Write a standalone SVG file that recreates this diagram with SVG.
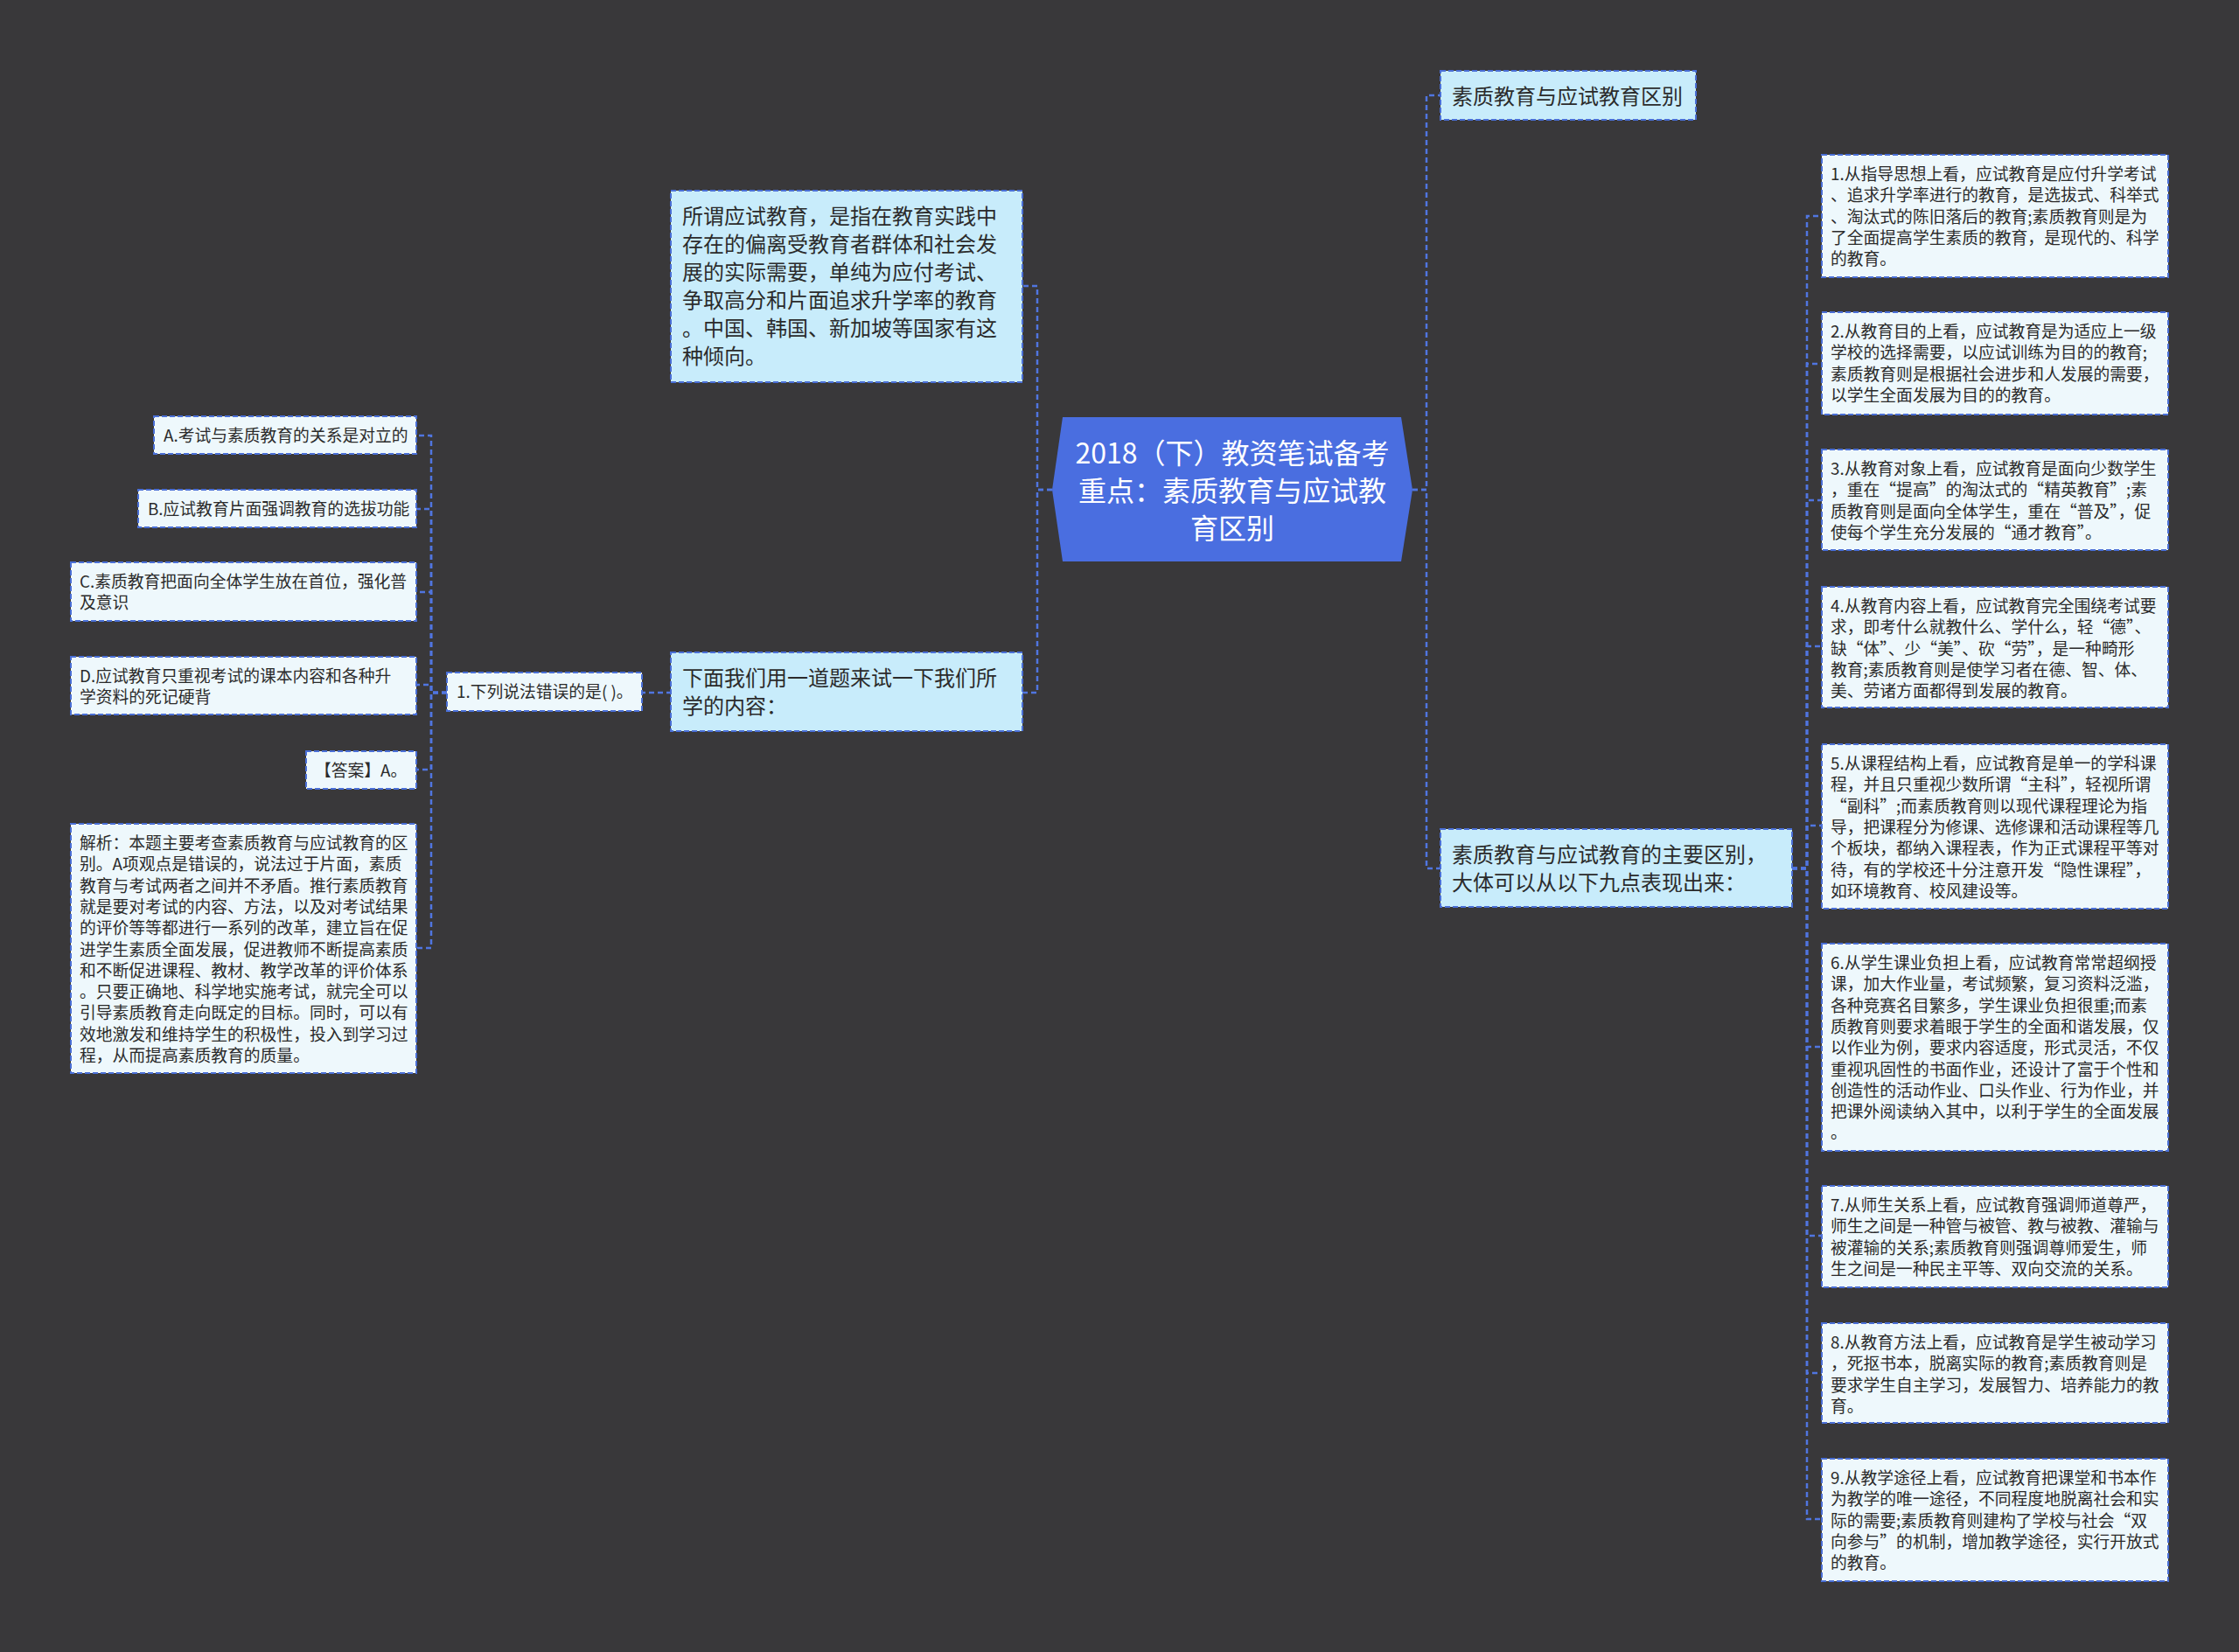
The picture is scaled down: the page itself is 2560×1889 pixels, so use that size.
<svg xmlns="http://www.w3.org/2000/svg" width="2560" height="1889" viewBox="0 0 2560 1889">
<style>
text{font-family:"Noto Sans CJK SC","Noto Sans",sans-serif;fill:#2b2b2b}
.n1{fill:#c8ecfb;stroke:#4a6fd6;stroke-width:2;stroke-dasharray:6 3}
.n2{fill:#eef8fc;stroke:#4a6fd6;stroke-width:2;stroke-dasharray:6 3}
.t24{font-size:24px}
.t19{font-size:18.8px}
.conn{fill:none;stroke:#5075e0;stroke-width:2.5;stroke-dasharray:6 4}
</style>
<rect width="2560" height="1889" fill="#39383a"/>
<g id="connectors">
<path class="conn" d="M1203,560 H1186 V327 H1169"/>
<path class="conn" d="M1203,560 H1186 V792 H1169"/>
<path class="conn" d="M1615,560 H1631 V109 H1647"/>
<path class="conn" d="M1615,560 H1631 V993 H1647"/>
<path class="conn" d="M768,792 H734"/>
<path class="conn" d="M511,792 H493 V498 H476"/>
<path class="conn" d="M511,792 H493 V582 H476"/>
<path class="conn" d="M511,792 H493 V677 H476"/>
<path class="conn" d="M511,792 H493 V783 H476"/>
<path class="conn" d="M511,792 H493 V880 H476"/>
<path class="conn" d="M511,792 H493 V1084 H476"/>
<path class="conn" d="M2049,993 H2066 V247 H2083"/>
<path class="conn" d="M2049,993 H2066 V416 H2083"/>
<path class="conn" d="M2049,993 H2066 V572 H2083"/>
<path class="conn" d="M2049,993 H2066 V739 H2083"/>
<path class="conn" d="M2049,993 H2066 V944 H2083"/>
<path class="conn" d="M2049,993 H2066 V1197 H2083"/>
<path class="conn" d="M2049,993 H2066 V1413 H2083"/>
<path class="conn" d="M2049,993 H2066 V1570 H2083"/>
<path class="conn" d="M2049,993 H2066 V1737 H2083"/>
</g>
<g id="root">
<polygon points="1215,477 1602,477 1615,560 1602,642 1215,642 1203,560" fill="#4a6ee0"/>
<text text-anchor="middle" font-size="32" style="fill:#ffffff"><tspan x="1409" y="530">2018（下）教资笔试备考</tspan><tspan x="1409" y="573">重点：素质教育与应试教</tspan><tspan x="1409" y="616">育区别</tspan></text>
</g>
<g id="node-yingshi">
<rect class="n1" x="767" y="218" width="402" height="219"/>
<text class="t24"><tspan x="780" y="256">所谓应试教育，是指在教育实践中</tspan><tspan x="780" y="288">存在的偏离受教育者群体和社会发</tspan><tspan x="780" y="320">展的实际需要，单纯为应付考试、</tspan><tspan x="780" y="352">争取高分和片面追求升学率的教育</tspan><tspan x="780" y="384">。中国、韩国、新加坡等国家有这</tspan><tspan x="780" y="416">种倾向。</tspan></text>
</g>
<g id="node-xiamian">
<rect class="n1" x="767" y="746" width="402" height="90"/>
<text class="t24"><tspan x="780" y="784">下面我们用一道题来试一下我们所</tspan><tspan x="780" y="816">学的内容：</tspan></text>
</g>
<g id="node-question">
<rect class="n2" x="511" y="769" width="223" height="44"/>
<text class="t19" x="522" y="798">1.下列说法错误的是( )。</text>
</g>
<g id="node-a">
<rect class="n2" x="176" y="476" width="300" height="43"/>
<text class="t19" x="187" y="505">A.考试与素质教育的关系是对立的</text>
</g>
<g id="node-b">
<rect class="n2" x="158" y="560" width="318" height="43"/>
<text class="t19" x="169" y="589">B.应试教育片面强调教育的选拔功能</text>
</g>
<g id="node-c">
<rect class="n2" x="81" y="643" width="395" height="67"/>
<text class="t19"><tspan x="91" y="672">C.素质教育把面向全体学生放在首位，强化普</tspan><tspan x="91" y="696">及意识</tspan></text>
</g>
<g id="node-d">
<rect class="n2" x="81" y="751" width="395" height="66"/>
<text class="t19"><tspan x="91" y="780">D.应试教育只重视考试的课本内容和各种升</tspan><tspan x="91" y="804">学资料的死记硬背</tspan></text>
</g>
<g id="node-answer">
<rect class="n2" x="350" y="859" width="126" height="43"/>
<text class="t19" x="360" y="888">【答案】A。</text>
</g>
<g id="node-analysis">
<rect class="n2" x="81" y="942" width="395" height="285"/>
<text class="t19"><tspan x="91" y="971">解析：本题主要考查素质教育与应试教育的区</tspan><tspan x="91" y="995.3">别。A项观点是错误的，说法过于片面，素质</tspan><tspan x="91" y="1019.6">教育与考试两者之间并不矛盾。推行素质教育</tspan><tspan x="91" y="1043.9">就是要对考试的内容、方法，以及对考试结果</tspan><tspan x="91" y="1068.2">的评价等等都进行一系列的改革，建立旨在促</tspan><tspan x="91" y="1092.5">进学生素质全面发展，促进教师不断提高素质</tspan><tspan x="91" y="1116.8">和不断促进课程、教材、教学改革的评价体系</tspan><tspan x="91" y="1141.1">。只要正确地、科学地实施考试，就完全可以</tspan><tspan x="91" y="1165.4">引导素质教育走向既定的目标。同时，可以有</tspan><tspan x="91" y="1189.7">效地激发和维持学生的积极性，投入到学习过</tspan><tspan x="91" y="1214">程，从而提高素质教育的质量。</tspan></text>
</g>
<g id="node-qubie">
<rect class="n1" x="1647" y="81" width="292" height="56"/>
<text class="t24" x="1660" y="119">素质教育与应试教育区别</text>
</g>
<g id="node-zhuyao">
<rect class="n1" x="1647" y="948" width="402" height="89"/>
<text class="t24"><tspan x="1660" y="986">素质教育与应试教育的主要区别，</tspan><tspan x="1660" y="1018">大体可以从以下九点表现出来：</tspan></text>
</g>
<g id="point-1">
<rect class="n2" x="2083" y="177" width="396" height="140"/>
<text class="t19"><tspan x="2093" y="206">1.从指导思想上看，应试教育是应付升学考试</tspan><tspan x="2093" y="230.3">、追求升学率进行的教育，是选拔式、科举式</tspan><tspan x="2093" y="254.6">、淘汰式的陈旧落后的教育;素质教育则是为</tspan><tspan x="2093" y="278.9">了全面提高学生素质的教育，是现代的、科学</tspan><tspan x="2093" y="303.2">的教育。</tspan></text>
</g>
<g id="point-2">
<rect class="n2" x="2083" y="357" width="396" height="117"/>
<text class="t19"><tspan x="2093" y="386">2.从教育目的上看，应试教育是为适应上一级</tspan><tspan x="2093" y="410.3">学校的选择需要，以应试训练为目的的教育;</tspan><tspan x="2093" y="434.6">素质教育则是根据社会进步和人发展的需要，</tspan><tspan x="2093" y="458.9">以学生全面发展为目的的教育。</tspan></text>
</g>
<g id="point-3">
<rect class="n2" x="2083" y="514" width="396" height="115"/>
<text class="t19"><tspan x="2093" y="543">3.从教育对象上看，应试教育是面向少数学生</tspan><tspan x="2093" y="567.3">，重在“提高”的淘汰式的“精英教育”;素</tspan><tspan x="2093" y="591.6">质教育则是面向全体学生，重在“普及”，促</tspan><tspan x="2093" y="615.9">使每个学生充分发展的“通才教育”。</tspan></text>
</g>
<g id="point-4">
<rect class="n2" x="2083" y="671" width="396" height="138"/>
<text class="t19"><tspan x="2093" y="700">4.从教育内容上看，应试教育完全围绕考试要</tspan><tspan x="2093" y="724.3">求，即考什么就教什么、学什么，轻“德”、</tspan><tspan x="2093" y="748.6">缺“体”、少“美”、砍“劳”，是一种畸形</tspan><tspan x="2093" y="772.9">教育;素质教育则是使学习者在德、智、体、</tspan><tspan x="2093" y="797.2">美、劳诸方面都得到发展的教育。</tspan></text>
</g>
<g id="point-5">
<rect class="n2" x="2083" y="851" width="396" height="188"/>
<text class="t19"><tspan x="2093" y="880">5.从课程结构上看，应试教育是单一的学科课</tspan><tspan x="2093" y="904.3">程，并且只重视少数所谓“主科”，轻视所谓</tspan><tspan x="2093" y="928.6">“副科”;而素质教育则以现代课程理论为指</tspan><tspan x="2093" y="952.9">导，把课程分为修课、选修课和活动课程等几</tspan><tspan x="2093" y="977.2">个板块，都纳入课程表，作为正式课程平等对</tspan><tspan x="2093" y="1001.5">待，有的学校还十分注意开发“隐性课程”，</tspan><tspan x="2093" y="1025.8">如环境教育、校风建设等。</tspan></text>
</g>
<g id="point-6">
<rect class="n2" x="2083" y="1079" width="396" height="237"/>
<text class="t19"><tspan x="2093" y="1108">6.从学生课业负担上看，应试教育常常超纲授</tspan><tspan x="2093" y="1132.3">课，加大作业量，考试频繁，复习资料泛滥，</tspan><tspan x="2093" y="1156.6">各种竞赛名目繁多，学生课业负担很重;而素</tspan><tspan x="2093" y="1180.9">质教育则要求着眼于学生的全面和谐发展，仅</tspan><tspan x="2093" y="1205.2">以作业为例，要求内容适度，形式灵活，不仅</tspan><tspan x="2093" y="1229.5">重视巩固性的书面作业，还设计了富于个性和</tspan><tspan x="2093" y="1253.8">创造性的活动作业、口头作业、行为作业，并</tspan><tspan x="2093" y="1278.1">把课外阅读纳入其中，以利于学生的全面发展</tspan><tspan x="2093" y="1302.4">。</tspan></text>
</g>
<g id="point-7">
<rect class="n2" x="2083" y="1356" width="396" height="116"/>
<text class="t19"><tspan x="2093" y="1385">7.从师生关系上看，应试教育强调师道尊严，</tspan><tspan x="2093" y="1409.3">师生之间是一种管与被管、教与被教、灌输与</tspan><tspan x="2093" y="1433.6">被灌输的关系;素质教育则强调尊师爱生，师</tspan><tspan x="2093" y="1457.9">生之间是一种民主平等、双向交流的关系。</tspan></text>
</g>
<g id="point-8">
<rect class="n2" x="2083" y="1513" width="396" height="114"/>
<text class="t19"><tspan x="2093" y="1542">8.从教育方法上看，应试教育是学生被动学习</tspan><tspan x="2093" y="1566.3">，死抠书本，脱离实际的教育;素质教育则是</tspan><tspan x="2093" y="1590.6">要求学生自主学习，发展智力、培养能力的教</tspan><tspan x="2093" y="1614.9">育。</tspan></text>
</g>
<g id="point-9">
<rect class="n2" x="2083" y="1668" width="396" height="140"/>
<text class="t19"><tspan x="2093" y="1697">9.从教学途径上看，应试教育把课堂和书本作</tspan><tspan x="2093" y="1721.3">为教学的唯一途径，不同程度地脱离社会和实</tspan><tspan x="2093" y="1745.6">际的需要;素质教育则建构了学校与社会“双</tspan><tspan x="2093" y="1769.9">向参与”的机制，增加教学途径，实行开放式</tspan><tspan x="2093" y="1794.2">的教育。</tspan></text>
</g>
</svg>
